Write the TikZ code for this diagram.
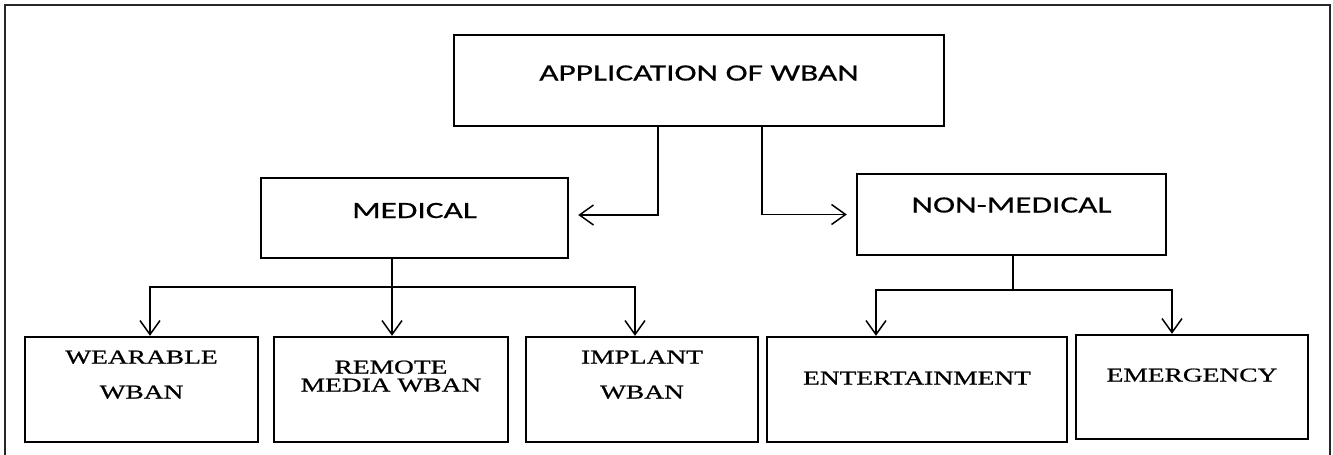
\documentclass[tikz,border=0pt]{standalone}
\usepackage{fontspec}
\setmainfont{Liberation Serif}[FakeStretch=1.40, FakeBold=0.8]
\newfontfamily\headfont{Carlito}[FakeStretch=1.43, FakeBold=0.6]
\usetikzlibrary{arrows.meta}
\begin{document}
\begin{tikzpicture}[x=1pt, y=-1pt, font=\fontsize{19.6}{35}\selectfont,
  box/.style 2 args={draw, line width=2.4pt, minimum width=#1pt, minimum height=#2pt,
    inner sep=0pt, text height=0pt, text depth=0pt, align=center},
  head/.style={font=\headfont\fontsize{23.3}{28}\selectfont},
  arr/.style={-{Straight Barb[length=14pt,width=20pt]}, line width=1.5pt}]
\definecolor{frame}{gray}{0.15}
\useasboundingbox (0,0) rectangle (1333,455);
\draw[frame, line width=2pt] (5,460) |- (1330,5) -- (1330,460);
% top row
\node[box={490}{91}, head] (app) at (699,80.5) {APPLICATION OF WBAN};
\node[box={307}{80}, head] (med) at (414.5,218) {MEDICAL};
\node[box={309}{81}, head, text depth=4pt] (nonmed) at (1011.5,214.5) {NON-MEDICAL};
% bottom row
\node[box={233}{105}, text height=18pt] (wear) at (141.5,389.5) {WEARABLE\\WBAN};
\node[box={234}{105}, text height=4pt, font=\fontsize{19.6}{18}\selectfont] (remote) at (391,389.5) {REMOTE\\MEDIA WBAN};
\node[box={232}{105}, text height=18pt] (impl) at (642,389.5) {IMPLANT\\WBAN};
\node[box={300}{105}, text depth=10pt] (ent) at (917,389.5) {ENTERTAINMENT};
\node[box={232}{104}, text depth=11pt] (emer) at (1192,387) {EMERGENCY};
% connectors
\coordinate (medj) at (392,287);
\coordinate (nonj) at (1013,290);
\draw[arr, shorten >=9pt] ([xshift=-41pt]app.south) |- ([yshift=3pt]med.east);
\draw[arr, shorten >=9pt] ([xshift=63pt]app.south) |- (nonmed.west);
\draw[line width=1.5pt] (med.south -| medj) -- (medj);
\draw[arr] (medj) -| ([xshift=8.5pt]wear.north);
\draw[arr] (medj) -- (medj |- remote.north);
\draw[arr] (medj) -| ([xshift=-7pt]impl.north);
\draw[line width=1.5pt] (nonmed.south -| nonj) -- (nonj);
\draw[arr] (nonj) -| ([xshift=-41pt]ent.north);
\draw[arr] (nonj) -| ([xshift=-20pt]emer.north);
\end{tikzpicture}
\end{document}
